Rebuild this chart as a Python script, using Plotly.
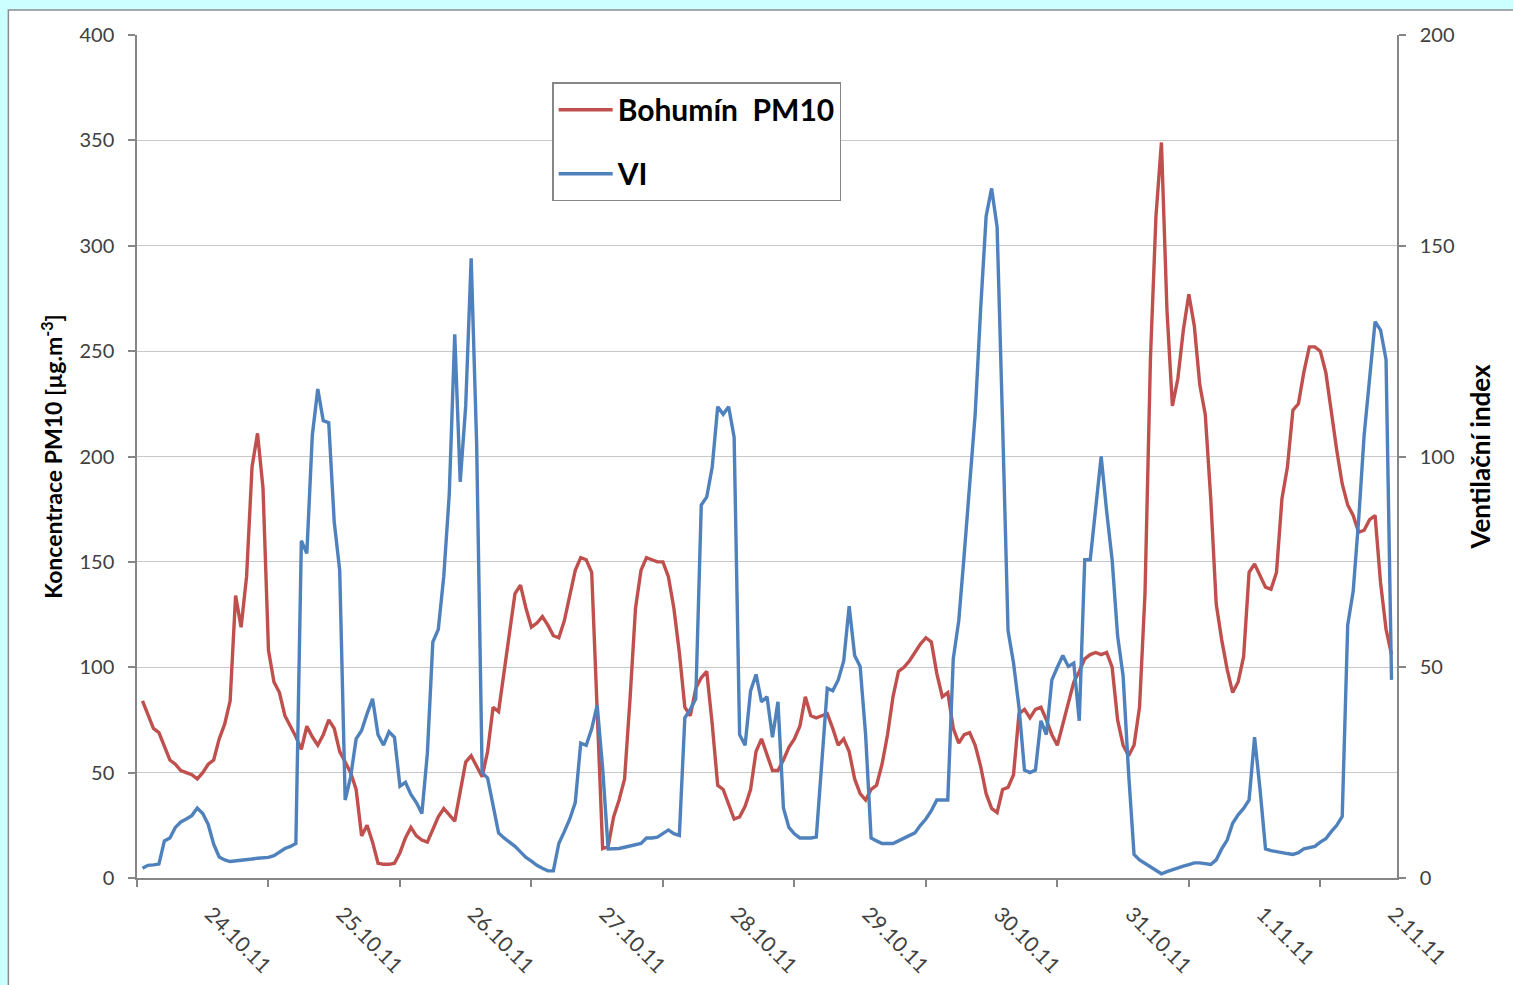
import plotly.graph_objects as go
import pandas as pd

# hourly data, 24.10.2011 01:00 onwards
start_time = "2011-10-24 01:00"

pm10 = [
    84, 77, 71, 69, 63, 56, 54, 51, 50, 49,
    47, 50, 54, 56, 66, 73, 84, 134, 119, 143,
    195, 211, 185, 108, 93, 88, 77, 72, 67, 61,
    72, 67, 63, 68, 75, 71, 60, 55, 50, 42,
    20, 25, 17, 7, 6.5, 6.5, 7, 12, 19, 24,
    20, 18, 17, 23, 29, 33, 30, 27, 41, 55,
    58, 53, 48, 60, 81, 79, 97, 115, 135, 139,
    128, 119, 121, 124, 120, 115, 114, 122, 135, 146,
    152, 151, 145, 84, 14, 15, 29, 37, 47, 85,
    128, 146, 152, 151, 150, 150, 143, 128, 107, 81,
    77, 90, 95, 98, 73, 44, 42, 35, 28, 29,
    34, 42, 60, 66, 58, 51, 51, 56, 62, 66,
    72, 86, 77, 76, 77, 78, 71, 63, 66, 60,
    47, 40, 37, 42, 44, 54, 68, 86, 98, 100,
    103, 107, 111, 114, 112, 97, 86, 88, 71, 64,
    68, 69, 63, 53, 40, 33, 31, 42, 43, 49,
    78, 80, 76, 80, 81, 75, 68, 63, 73, 84,
    93, 98, 104, 106, 107, 106, 107, 100, 75, 63,
    58, 63, 81, 135, 247, 314, 349, 270, 224, 237,
    260, 277, 262, 234, 220, 180, 130, 113, 99, 88,
    93, 105, 145, 149, 143, 138, 137, 145, 180, 195,
    222, 225, 240, 252, 252, 250, 240, 221, 203, 187,
    177, 172, 164, 165, 170, 172, 140, 118, 106,
]

vi = [
    2.3, 3, 3.1, 3.3, 8.8, 9.5, 12, 13.3, 14, 14.8,
    16.6, 15.3, 12.7, 8, 5, 4.3, 3.9, 4, 4.2, 4.3,
    4.5, 4.7, 4.8, 4.9, 5.3, 6.2, 7, 7.5, 8.2, 80,
    77, 105, 116, 108.5, 108, 84.5, 73, 18.5, 24, 33,
    35, 39, 42.5, 34, 31.5, 34.7, 33.4, 21.8, 22.7, 19.8,
    17.9, 15.3, 29.5, 56, 59, 71.6, 91, 129, 94, 112,
    147, 103, 25, 23.7, 17.2, 10.7, 9.5, 8.5, 7.5, 6.2,
    4.9, 4, 3, 2.3, 1.7, 1.7, 8.2, 11, 14, 17.9,
    32, 31.5, 35.4, 41, 26, 6.9, 6.9, 7, 7.3, 7.6,
    7.9, 8.2, 9.5, 9.5, 9.7, 10.5, 11.4, 10.5, 10.1, 38,
    40, 42.5, 88.5, 90.4, 97.5, 111.8, 110, 111.8, 104.6, 34,
    31.5, 44.4, 48.3, 41.8, 43, 33.4, 41.8, 16.6, 12, 10.5,
    9.5, 9.5, 9.5, 9.7, 27.6, 45, 44.4, 47, 51.5, 64.5,
    52.8, 50.2, 34, 9.5, 8.8, 8.2, 8.2, 8.2, 8.8, 9.5,
    10.1, 10.7, 12.5, 14, 16, 18.5, 18.5, 18.5, 52, 61,
    76.8, 93.6, 110, 135, 157, 163.6, 154.5, 108, 58.7, 51,
    40.5, 25.6, 25, 25.6, 37.3, 34, 47, 50, 52.8, 50.2,
    51, 37.3, 75.5, 75.5, 87, 100, 87, 75.5, 57.4, 48,
    25, 5.6, 4.3, 3.5, 2.5, 1.7, 1, 1.5, 2, 2.3,
    2.8, 3.2, 3.6, 3.6, 3.4, 3.2, 4.3, 6.9, 9, 13,
    15, 16.5, 18.5, 33.4, 21, 6.9, 6.5, 6.2, 6, 5.8,
    5.6, 6, 6.9, 7.2, 7.5, 8.5, 9.3, 11, 12.5, 14.6,
    60, 68, 85, 105, 118, 132, 130, 123, 47,
]

day_labels = ["24.10.11", "25.10.11", "26.10.11", "27.10.11", "28.10.11",
              "29.10.11", "30.10.11", "31.10.11", "1.11.11", "2.11.11"]

times = pd.date_range(start_time, periods=len(pm10), freq="h")
label_pos = pd.date_range("2011-10-24 13:30", periods=len(day_labels), freq="D")

FONT = "Lato"
AX = "#868686"
TXT = "#404040"

fig = go.Figure()
fig.add_trace(go.Scatter(x=times, y=pm10, name="Bohumín  PM10", mode="lines",
                         legendgroup="pm10",
                         line=dict(color="#C0504D", width=3.4), yaxis="y"))
fig.add_trace(go.Scatter(x=times, y=vi, name="VI", mode="lines",
                         legendgroup="vi",
                         line=dict(color="#4F81BD", width=3.4), yaxis="y2"))

# white chart-area panel over the cyan page
fig.add_shape(type="rect", xref="paper", yref="paper",
              x0=-0.1021, x1=1.2, y0=-0.3, y1=1.0296,
              fillcolor="white", line=dict(color="#8C8C8C", width=1.5), layer="below")

fig.update_layout(
    width=1513, height=985, autosize=False,
    margin=dict(l=137, r=116, t=35, b=107),
    paper_bgcolor="#CCFFFF", plot_bgcolor="white",
    font=dict(family=FONT, color=TXT),
    showlegend=True,
    legend=dict(x=0.3295, y=0.944, xanchor="left", yanchor="top",
                bgcolor="white", bordercolor=AX, borderwidth=1.5,
                font=dict(family=FONT, size=30, color="black", weight="bold"),
                traceorder="grouped", tracegroupgap=22, itemwidth=54),
    xaxis=dict(type="date", range=["2011-10-24 00:00", "2011-11-02 14:00"],
               automargin=False,
               tickvals=list(label_pos), ticktext=day_labels, tickangle=45,
               ticks="", showgrid=False, zeroline=False,
               showline=True, linecolor=AX, linewidth=1.5,
               tickfont=dict(family=FONT, size=21, color=TXT),
               ticklabelstandoff=14,
               minor=dict(ticks="outside", ticklen=7, tickcolor=AX, tickwidth=1.5,
                          tick0="2011-10-24", dtick=86400000, showgrid=False)),
    yaxis=dict(range=[0, 400], dtick=50, showgrid=True, gridcolor="#C8C8C8", gridwidth=1,
               automargin=False,
               showline=True, linecolor=AX, linewidth=1.5, zeroline=False,
               ticks="outside", ticklen=7, tickcolor=AX, tickwidth=1.5,
               tickfont=dict(family=FONT, size=20, color=TXT), ticklabelstandoff=10,
               title=dict(text="Koncentrace PM10 [µg.m<sup>-3</sup>]", standoff=10,
                          font=dict(family=FONT, size=23, color="black", weight="bold"))),
    yaxis2=dict(range=[0, 200], dtick=50, overlaying="y", side="right", showgrid=False,
                automargin=False,
                showline=True, linecolor=AX, linewidth=1.5, zeroline=False,
                ticks="outside", ticklen=7, tickcolor=AX, tickwidth=1.5,
                tickfont=dict(family=FONT, size=20, color=TXT), ticklabelstandoff=10,
                title=dict(text="Ventilační index", standoff=18,
                           font=dict(family=FONT, size=26, color="black", weight="bold"))),
)

fig.write_html("out.html")
